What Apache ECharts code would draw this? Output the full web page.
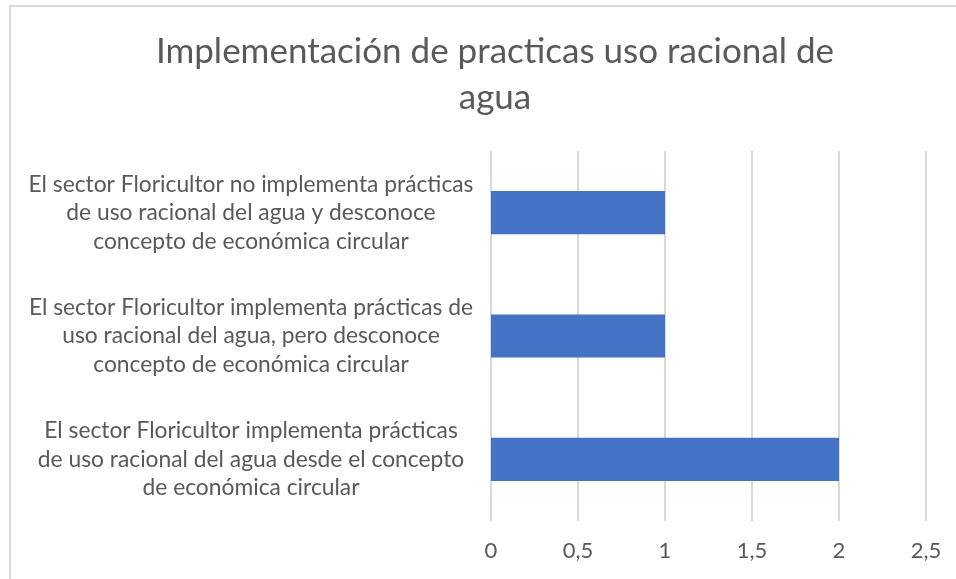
<!DOCTYPE html>
<html>
<head>
<meta charset="utf-8">
<script src="https://cdn.jsdelivr.net/npm/echarts@6/dist/echarts.min.js"></script>
<style>
html,body{margin:0;padding:0;background:#fff;}
#chart{width:956px;height:579px;}
</style>
</head>
<body>
<div id="chart"></div>
<script>
const titleText = "Implementación de practicas uso racional de\nagua";
const categories = [
  "El sector Floricultor implementa prácticas\nde uso racional del agua desde el concepto\nde económica circular",
  "El sector Floricultor implementa prácticas de\nuso racional del agua, pero desconoce\nconcepto de económica circular",
  "El sector Floricultor no implementa prácticas\nde uso racional del agua y desconoce\nconcepto de económica circular"
];
const values = [2, 1, 1];
const axisMin = 0, axisMax = 2.5, axisStep = 0.5;

const chart = echarts.init(document.getElementById('chart'), null, {renderer: 'canvas'});
const FONT = 'Lato';
chart.setOption({
  backgroundColor: '#ffffff',
  animation: false,
  graphic: [{
    type: 'rect',
    shape: {x: 10, y: 6, width: 1000, height: 700},
    style: {fill: 'none', stroke: '#d9d9d9', lineWidth: 2},
    silent: true, z: -1
  }],
  title: {
    text: titleText,
    left: 490,
    top: 24,
    textAlign: 'center',
    textStyle: {fontFamily: FONT, fontSize: 35, fontWeight: 'normal', color: '#595959', lineHeight: 46}
  },
  grid: {left: 491, right: 30, top: 151, bottom: 58, containLabel: false},
  xAxis: {
    type: 'value', min: axisMin, max: axisMax, interval: axisStep,
    axisLine: {show: false}, axisTick: {show: false},
    splitLine: {show: true, lineStyle: {color: '#d9d9d9', width: 2}},
    axisLabel: {
      margin: 19, color: '#595959', fontFamily: FONT, fontSize: 22,
      formatter: v => String(v).replace('.', ',')
    }
  },
  yAxis: {
    type: 'category', data: categories,
    axisLine: {show: false}, axisTick: {show: false}, splitLine: {show: false},
    axisLabel: {
      align: 'center', margin: 240, color: '#595959', fontFamily: FONT, fontSize: 22.8, lineHeight: 28.5
    }
  },
  series: [{
    type: 'bar', data: values, barCategoryGap: '65%',
    itemStyle: {color: '#4472c4'}
  }]
});
</script>
</body>
</html>
